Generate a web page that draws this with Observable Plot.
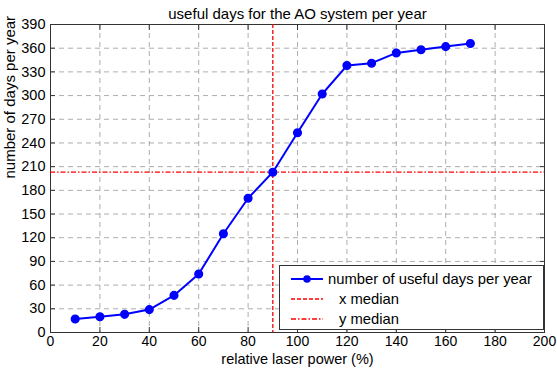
<!DOCTYPE html>
<html><head><meta charset="utf-8">
<script src="https://cdn.jsdelivr.net/npm/d3@7"></script>
<script src="https://cdn.jsdelivr.net/npm/@observablehq/plot@0.6"></script>
<style>
body{margin:0;background:#fff;font-family:"Liberation Sans",Arial,sans-serif;}
#wrap{position:relative;width:557px;height:369px;}
#legend{position:absolute;left:279px;top:265px;width:263px;height:63px;border:1px solid #333;background:#fff;font-size:14.8px;color:#000;}
.row{position:absolute;left:0;height:20px;display:flex;align-items:center;white-space:nowrap;}
.row svg{margin-left:11px;}
</style></head><body>
<div id="wrap"></div>
<script>
const power = [10,20,30,40,50,60,70,80,90,100,110,120,130,140,150,160,170];
const days  = [17,20,23,29,47,74,125,170,203,253,302,338,341,354,358,362,366];
const xTicks = d3.range(0, 201, 20);
const yTicks = d3.range(0, 391, 30);
const xMedian = d3.median(power);
const yMedian = d3.median(days);
const title = "useful days for the AO system per year";
const xLabel = "relative laser power (%)";
const yLabel = "number of days per year";
const legendLabels = ["number of useful days per year", "x median", "y median"];

const data = power.map((p, i) => ({p, d: days[i]}));
const chart = Plot.plot({
  width: 557, height: 369,
  marginLeft: 50, marginRight: 13, marginTop: 24, marginBottom: 37,
  style: {fontFamily: '"Liberation Sans", Arial, sans-serif', fontSize: "14.5px", color: "#000", background: "#fff"},
  x: {domain: [0, 200]},
  y: {domain: [0, 390]},
  marks: [
    Plot.gridX(xTicks, {stroke: "#999", strokeOpacity: 0.8, strokeDasharray: "5,4"}),
    Plot.gridY(yTicks, {stroke: "#999", strokeOpacity: 0.8, strokeDasharray: "5,4"}),
    Plot.axisX(xTicks, {anchor: "bottom", tickSize: -5, tickPadding: 9, label: null, fontSize: 14, stroke: "#333"}),
    Plot.axisX(xTicks, {anchor: "top", tickSize: -5, text: null, label: null, stroke: "#333"}),
    Plot.axisY(yTicks, {anchor: "left", tickSize: -5, tickPadding: 10, label: null, fontSize: 14.5, stroke: "#333"}),
    Plot.axisY(yTicks, {anchor: "right", tickSize: -5, text: null, label: null, stroke: "#333"}),
    Plot.frame({stroke: "#333"}),
    Plot.ruleX([xMedian], {stroke: "#ff0000", strokeWidth: 1.3, strokeDasharray: "4,2"}),
    Plot.ruleY([yMedian], {stroke: "#ff0000", strokeWidth: 1.3, strokeDasharray: "5,2,1.5,2"}),
    Plot.line(data, {x: "p", y: "d", stroke: "#0000ff", strokeWidth: 2}),
    Plot.dot(data, {x: "p", y: "d", r: 3.8, fill: "#0000ff", stroke: "#0000ff"}),
    Plot.text([title], {frameAnchor: "top", dy: -16, fontSize: 15, fill: "#000"}),
    Plot.text([xLabel], {frameAnchor: "bottom", dy: 31, fontSize: 14.5, fill: "#000"}),
    Plot.text([yLabel], {frameAnchor: "left", dx: -40, rotate: -90, fontSize: 15, fill: "#000"})
  ]
});
const wrap = document.getElementById("wrap");
wrap.appendChild(chart);

const leg = document.createElement("div");
leg.id = "legend";
const samples = [
  '<svg width="32" height="12"><line x1="0" y1="6" x2="32" y2="6" stroke="#0000ff" stroke-width="2"/><circle cx="16" cy="6" r="3.8" fill="#0000ff"/></svg>',
  '<svg width="32" height="12"><line x1="0" y1="6" x2="32" y2="6" stroke="#ff0000" stroke-width="1.3" stroke-dasharray="4,2"/></svg>',
  '<svg width="32" height="12"><line x1="0" y1="6" x2="32" y2="6" stroke="#ff0000" stroke-width="1.3" stroke-dasharray="5,2,1.5,2"/></svg>'
];
const textLeft = [5, 16, 16];
legendLabels.forEach((lab, i) => {
  const r = document.createElement("div");
  r.className = "row";
  r.style.top = (3 + i * 20) + "px";
  r.innerHTML = samples[i] + '<span style="margin-left:' + textLeft[i] + 'px">' + lab + '</span>';
  leg.appendChild(r);
});
wrap.appendChild(leg);
</script>
</body></html>
